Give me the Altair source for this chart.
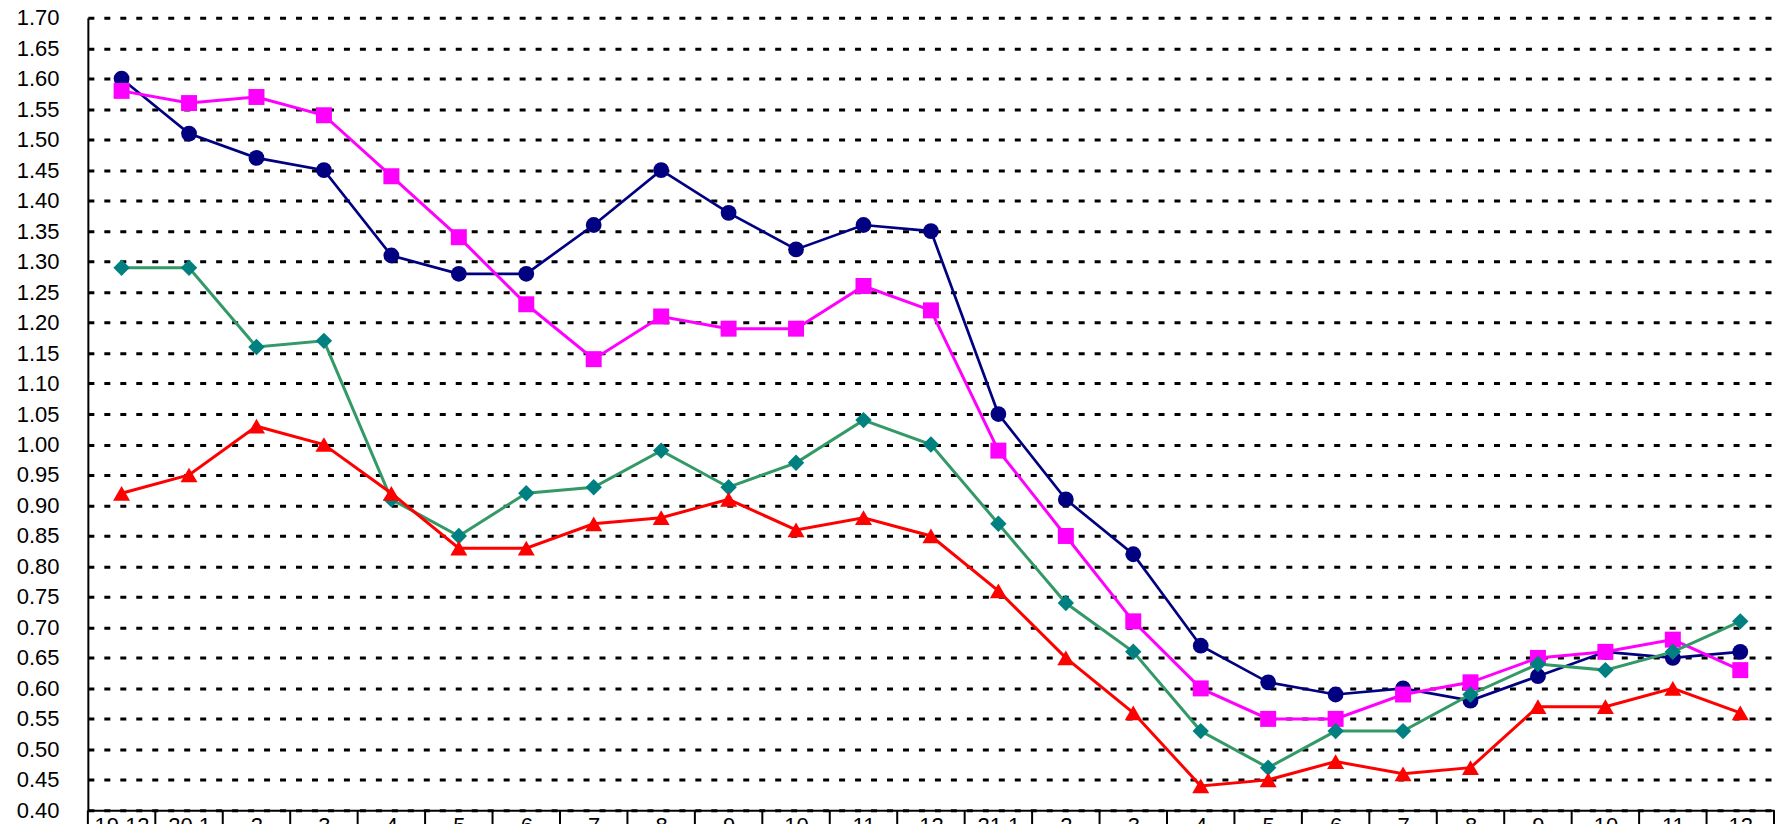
import altair as alt
import pandas as pd

labels = ["19.12", "20.1", "2", "3", "4", "5", "6", "7", "8", "9", "10", "11", "12",
          "21.1", "2", "3", "4", "5", "6", "7", "8", "9", "10", "11", "12"]

navy_vals = [1.60, 1.51, 1.47, 1.45, 1.31, 1.28, 1.28, 1.36, 1.45, 1.38, 1.32, 1.36, 1.35,
             1.05, 0.91, 0.82, 0.67, 0.61, 0.59, 0.60, 0.58, 0.62, 0.66, 0.65, 0.66]
magenta_vals = [1.58, 1.56, 1.57, 1.54, 1.44, 1.34, 1.23, 1.14, 1.21, 1.19, 1.19, 1.26, 1.22,
                0.99, 0.85, 0.71, 0.60, 0.55, 0.55, 0.59, 0.61, 0.65, 0.66, 0.68, 0.63]
teal_vals = [1.29, 1.29, 1.16, 1.17, 0.91, 0.85, 0.92, 0.93, 0.99, 0.93, 0.97, 1.04, 1.00,
             0.87, 0.74, 0.66, 0.53, 0.47, 0.53, 0.53, 0.59, 0.64, 0.63, 0.66, 0.71]
red_vals = [0.92, 0.95, 1.03, 1.00, 0.92, 0.83, 0.83, 0.87, 0.88, 0.91, 0.86, 0.88, 0.85,
            0.76, 0.65, 0.56, 0.44, 0.45, 0.48, 0.46, 0.47, 0.57, 0.57, 0.60, 0.56]

y_ticks = [0.40, 0.45, 0.50, 0.55, 0.60, 0.65, 0.70, 0.75, 0.80, 0.85, 0.90, 0.95, 1.00,
           1.05, 1.10, 1.15, 1.20, 1.25, 1.30, 1.35, 1.40, 1.45, 1.50, 1.55, 1.60, 1.65, 1.70]

series = [
    ("s1", navy_vals, "#000080", "#000080", "circle", 250, 2.7),
    ("s2", magenta_vals, "#FF00FF", "#FF00FF", "square", 256, 3),
    ("s3", teal_vals, "#339966", "#008080", "diamond", 270, 3),
    ("s4", red_vals, "#FF0000", "#FF0000", "triangle-up", 290, 3),
]

W, H = 1689, 794
FONT = "Liberation Sans"
n = len(labels)

x_scale = alt.Scale(domain=[-0.5, n - 0.5], nice=False, zero=False)
y_scale = alt.Scale(domain=[0.40, 1.70], nice=False, zero=False)

label_expr = "[" + ",".join('"%s"' % l for l in labels) + "][datum.value]"

x_axis = alt.Axis(values=list(range(n)), labelExpr=label_expr, labelFontSize=22,
                  labelFont=FONT, labelColor="black", labelBaseline="top",
                  labelPadding=5, labelAngle=0, labelOverlap=False, labelFlush=False,
                  ticks=False, grid=False, domainColor="black", domainWidth=2,
                  title=None)
y_axis = alt.Axis(values=y_ticks, format=".2f", labelFontSize=22, labelFont=FONT,
                  labelColor="black", labelPadding=29, labelOverlap=False,
                  labelFlush=False, ticks=False, grid=True, gridColor="black",
                  gridDash=[6, 10], gridWidth=3, gridOpacity=1,
                  domainColor="black", domainWidth=2, title=None)

bounds = pd.DataFrame({"b": [i - 0.5 for i in range(n + 1)]})
sep = alt.Chart(bounds).mark_rule(color="black", strokeWidth=2).encode(
    x=alt.X("b:Q", scale=x_scale, axis=x_axis),
    y=alt.value(H), y2=alt.value(H + 60),
)

layers = [sep]
for name, vals, lc, mc, shape, size, lw in series:
    df = pd.DataFrame({"i": list(range(n)), "v": vals})
    xenc = alt.X("i:Q", scale=x_scale, axis=x_axis)
    yenc = alt.Y("v:Q", scale=y_scale, axis=y_axis)
    line = alt.Chart(df).mark_line(color=lc, strokeWidth=lw).encode(x=xenc, y=yenc)
    pts = alt.Chart(df).mark_point(shape=shape, size=size, filled=True, fill=mc,
                                   color=mc, opacity=1, strokeWidth=0).encode(x=xenc, y=yenc)
    layers += [line, pts]

chart = alt.layer(*layers).properties(
    width=W, height=H,
    padding={"left": 80, "top": 9, "right": 5, "bottom": 40},
    autosize=alt.AutoSizeParams(type="none"),
    background="white",
).configure_view(stroke=None)

chart.save("out.html", embed_options={"renderer": "svg", "actions": False})
